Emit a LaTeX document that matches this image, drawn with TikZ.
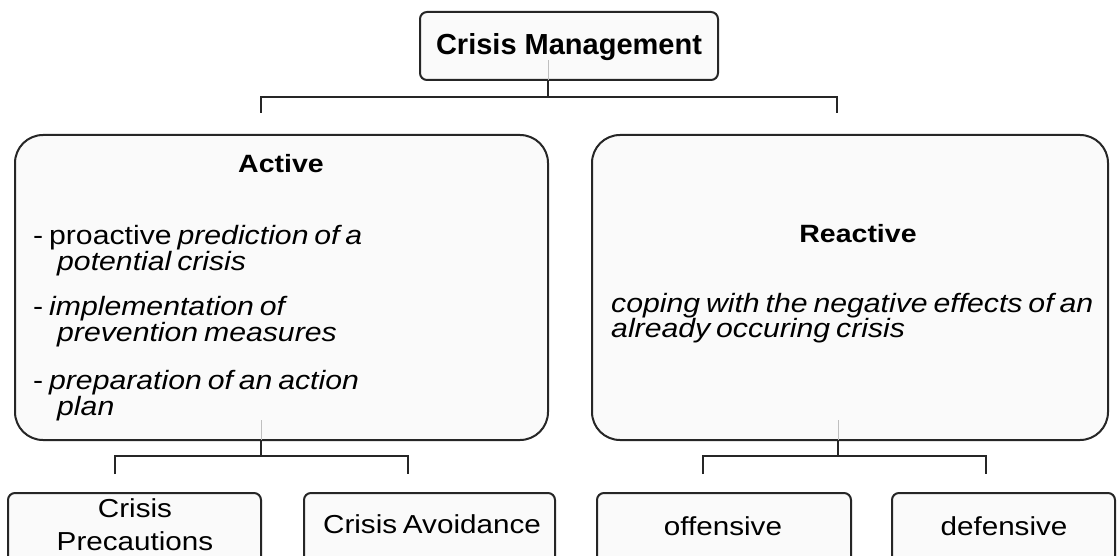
\documentclass[tikz,border=0pt]{standalone}
\usepackage{fontspec}
\setmainfont{Liberation Sans}
\newfontfamily\widefont{Liberation Sans}[FakeStretch=1.14,WordSpace=0.7]
\begin{document}
\begin{tikzpicture}[x=1pt,y=-1pt,
  conn/.style={draw=black!85,line width=2pt},
  faint/.style={draw=black!25,line width=1pt},
  boxbase/.style={draw=black!85,line width=2pt,fill=white!98!black,inner sep=0pt,outer sep=0pt,anchor=north west},
  smallbox/.style={boxbase,rounded corners=7pt},
  bigbox/.style={boxbase,rounded corners=28pt},
  toptext/.style={inner sep=0pt,anchor=base,font=\fontsize{29}{30}\selectfont\bfseries},
  headtext/.style={inner sep=0pt,anchor=base,font=\widefont\fontsize{25}{26}\selectfont\bfseries},
  bodytext/.style={inner sep=0pt,anchor=base west,font=\widefont\fontsize{26.5}{27}\selectfont},
  leaftext/.style={inner sep=0pt,anchor=base,font=\widefont\fontsize{26}{27}\selectfont}]
\useasboundingbox (0,0) rectangle (1118,556);
\clip (0,0) rectangle (1118,556);
\fill[white] (0,0) rectangle (1118,556);

% top
\node[smallbox,minimum width=298pt,minimum height=68pt] (top) at (420,12) {};
\node[toptext] (toplbl) at (569,55) {Crisis Management};

% main boxes
\node[bigbox,minimum width=533pt,minimum height=305pt] (act) at (15,135) {};
\node[bigbox,minimum width=516pt,minimum height=305pt] (rea) at (592,135) {};

\node[headtext] (actlbl) at (281,172) {Active};
\node[bodytext] (a1) at (33,244) {- proactive \textit{prediction of a}};
\node[bodytext] (a2) at (57,270) {\textit{potential crisis}};
\node[bodytext] (a3) at (33,315) {- \textit{implementation of}};
\node[bodytext] (a4) at (57,341) {\textit{prevention measures}};
\node[bodytext] (a5) at (33,389) {- \textit{preparation of an action}};
\node[bodytext] (a6) at (57,415) {\textit{plan}};

\node[headtext] (realbl) at (858,242) {Reactive};
\node[bodytext] (r1) at (611,312) {\textit{coping with the negative effects of an}};
\node[bodytext] (r2) at (611,337) {\textit{already occuring crisis}};

% leaves
\node[smallbox,minimum width=253pt,minimum height=90pt] (prec) at (8,493) {};
\node[smallbox,minimum width=251pt,minimum height=90pt] (avoid) at (304,493) {};
\node[smallbox,minimum width=254pt,minimum height=90pt] (off) at (597,493) {};
\node[smallbox,minimum width=223pt,minimum height=90pt] (def) at (892,493) {};

\node[leaftext] (preclbl1) at (135,517) {Crisis};
\node[leaftext] (preclbl2) at (135,550) {Precautions};
\node[leaftext] (avoidlbl) at (432,533) {Crisis Avoidance};
\node[leaftext] (offlbl) at (723,535) {offensive};
\node[leaftext] (deflbl) at (1004,535) {defensive};

% connectors top level
\coordinate (j0) at (548,97);
\coordinate (jl) at (261,97);
\coordinate (jr) at (837,97);
\coordinate (dl) at (261,113);
\coordinate (dr) at (837,113);
\draw[faint] (548,60) -- (top.south -| j0);
\draw[conn] (top.south -| j0) -- (j0);
\draw[conn] (dl) -- (jl) -- (jr) -- (dr);

% active children
\coordinate (k0) at (261,456);
\coordinate (kl) at (115,456);
\coordinate (kr) at (408,456);
\coordinate (kld) at (115,474);
\coordinate (krd) at (408,474);
\draw[faint] (261,420) -- (act.south -| k0);
\draw[conn] (act.south -| k0) -- (k0);
\draw[conn] (kld) -- (kl) -- (kr) -- (krd);

% reactive children
\coordinate (m0) at (838,456);
\coordinate (ml) at (703,456);
\coordinate (mr) at (986,456);
\coordinate (mld) at (703,474);
\coordinate (mrd) at (986,474);
\draw[faint] (838,420) -- (rea.south -| m0);
\draw[conn] (rea.south -| m0) -- (m0);
\draw[conn] (mld) -- (ml) -- (mr) -- (mrd);
\end{tikzpicture}
\end{document}
